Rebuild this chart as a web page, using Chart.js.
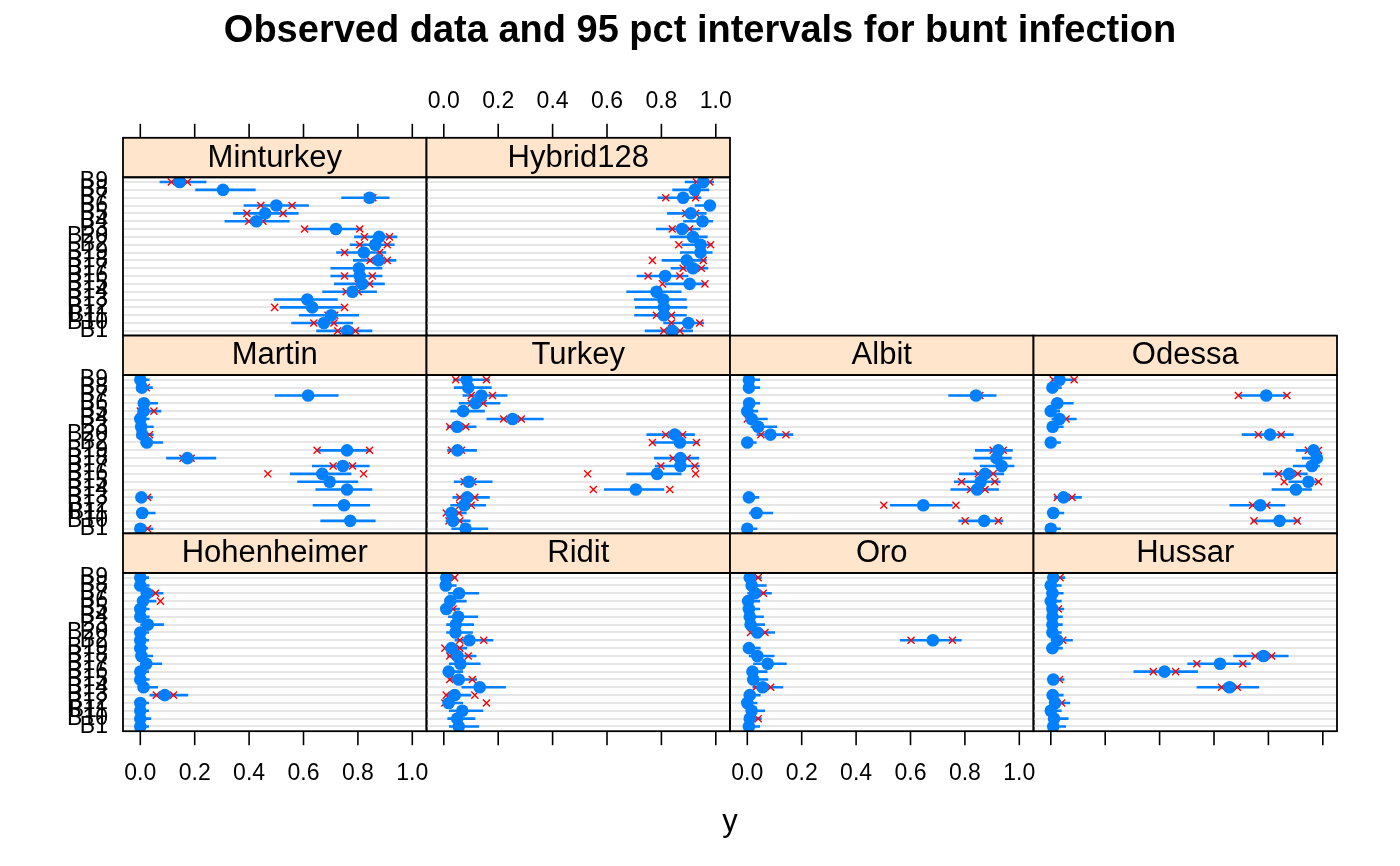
<!DOCTYPE html>
<html><head><meta charset="utf-8">
<script src="https://cdn.jsdelivr.net/npm/chart.js@4.4.1/dist/chart.umd.min.js"></script>
<style>
html,body{margin:0;padding:0;background:#fff;}
#wrap{position:relative;width:1400px;height:866px;overflow:hidden;background:#fff;}
#wrap canvas{position:absolute;left:0;top:0;}
</style></head><body><div id="wrap"></div>
<script>
// ---- categories / tick labels ----
const blocks = ['B1','B10','B11','B12','B13','B14','B15','B16','B17','B18','B19','B2','B20','B3','B4','B5','B6','B7','B8','B9'];
const xTickValues = [0, 0.2, 0.4, 0.6, 0.8, 1.0];
const titleText = 'Observed data and 95 pct intervals for bunt infection';
const xLabelText = 'y';

// ---- data (rows in order of blocks) ----
const minturkeyObs = [0.761,0.675,0.702,0.632,0.614,0.780,0.816,0.807,0.804,0.876,0.822,0.864,0.878,0.719,0.427,0.459,0.500,0.843,0.304,0.145];
const minturkeyLo  = [0.647,0.555,0.583,0.512,0.491,0.669,0.712,0.699,0.699,0.782,0.720,0.770,0.786,0.604,0.310,0.341,0.380,0.739,0.202,0.071];
const minturkeyHi  = [0.853,0.782,0.804,0.745,0.726,0.870,0.899,0.890,0.890,0.941,0.904,0.935,0.945,0.816,0.549,0.582,0.620,0.916,0.424,0.243];
const minturkeyXlo = [0.726,0.638,0.690,0.494,null,0.757,0.801,0.751,null,0.845,0.751,0.807,0.824,0.604,0.399,0.392,0.443,0.835,null,0.114];
const minturkeyXhi = [0.791,0.712,0.715,0.751,null,0.801,0.843,0.853,null,0.908,0.880,0.908,0.916,0.807,0.451,0.525,0.558,0.855,null,0.173];

const hybridObs = [0.840,0.899,0.809,0.809,0.807,0.782,0.904,0.814,0.916,0.893,0.944,0.944,0.916,0.876,0.951,0.908,0.978,0.880,0.923,0.954];
const hybridLo  = [0.739,0.807,0.700,0.703,0.699,0.671,0.812,0.709,0.834,0.801,0.868,0.874,0.831,0.780,0.880,0.821,0.923,0.786,0.840,0.886];
const hybridHi  = [0.916,0.957,0.893,0.895,0.893,0.874,0.966,0.899,0.972,0.966,0.988,0.988,0.970,0.944,0.990,0.966,0.998,0.947,0.976,0.993];
const hybridXlo = [0.809,0.837,0.782,null,null,null,0.804,0.751,0.880,0.767,null,0.864,null,0.840,null,0.890,null,0.816,null,0.929];
const hybridXhi = [0.868,0.941,0.837,null,null,null,0.960,0.868,0.947,0.954,null,0.981,null,0.904,null,0.926,null,0.926,null,0.978];

const martinObs = [0,0.772,0.007,0.749,0.004,0.760,0.696,0.669,0.745,0.173,0.760,0.024,0.007,0.003,0,0.012,0.013,0.617,0.006,0];
const martinLo  = [0,0.662,0,0.634,0,0.644,0.577,0.550,0.631,0.095,0.650,0,0,0,0,0,0,0.494,0,0];
const martinHi  = [0.048,0.865,0.056,0.845,0.046,0.853,0.801,0.776,0.843,0.279,0.849,0.084,0.049,0.049,0.034,0.077,0.065,0.729,0.046,0.034];
const martinXlo = [0,null,null,null,0,null,null,0.469,0.709,0.157,0.650,null,0,null,null,0,null,null,0,null];
const martinXhi = [0.027,null,null,null,0.027,null,null,0.821,0.780,0.187,0.843,null,0.034,null,null,0.050,null,null,0.022,null];

const turkeyObs = [0.080,0.034,0.028,0.075,0.086,0.706,0.092,0.784,0.870,0.870,0.050,0.868,0.849,0.049,0.253,0.071,0.117,0.138,0.090,0.084];
const turkeyLo  = [0.028,0.007,0.003,0.024,0.032,0.589,0.037,0.671,0.776,0.773,0.012,0.767,0.745,0.012,0.157,0.024,0.055,0.069,0.037,0.034];
const turkeyHi  = [0.163,0.098,0.084,0.155,0.169,0.810,0.179,0.874,0.941,0.939,0.122,0.939,0.923,0.120,0.367,0.151,0.208,0.234,0.176,0.169];
const turkeyXlo = [null,0.019,0.009,0.059,0.059,0.550,0.075,0.529,0.798,0.843,0.028,0.767,0.816,0.022,0.220,null,0.101,0.101,null,0.044];
const turkeyXhi = [null,0.059,0.056,0.101,0.114,0.831,0.107,0.926,0.923,0.895,0.065,0.929,0.878,0.081,0.285,null,0.145,0.179,null,0.157];

const albitObs = [0,0.871,0.034,0.647,0.006,0.845,0.858,0.874,0.935,0.916,0.923,0,0.085,0.040,0.016,0,0.007,0.841,0.006,0.006];
const albitLo  = [0,0.776,0.007,0.525,0,0.747,0.760,0.778,0.855,0.831,0.837,0,0.034,0.012,0,0,0,0.739,0,0];
const albitHi  = [0.037,0.941,0.095,0.755,0.044,0.925,0.931,0.944,0.982,0.972,0.976,0.034,0.169,0.110,0.075,0.040,0.047,0.916,0.047,0.047];
const albitXlo = [null,0.801,null,0.502,null,0.821,0.788,0.849,null,null,0.904,null,0.050,null,0,null,null,0.835,null,null];
const albitXhi = [null,0.923,null,0.767,null,0.874,0.910,0.904,null,null,0.941,null,0.142,null,null,null,null,0.855,null,null];

const odessaObs = [0,0.841,0.009,0.770,0.047,0.901,0.947,0.876,0.960,0.978,0.966,0,0.806,0.007,0.032,0,0.024,0.792,0.006,0.032];
const odessaLo  = [0,0.739,0,0.657,0.012,0.812,0.874,0.780,0.890,0.923,0.901,0,0.702,0,0.003,0,0,0.690,0,0.003];
const odessaHi  = [0.037,0.916,0.049,0.862,0.114,0.960,0.990,0.944,0.989,0.991,0.990,0.037,0.893,0.047,0.095,0.034,0.084,0.874,0.040,0.094];
const odessaXlo = [null,0.747,null,0.742,0.024,null,0.858,0.837,null,null,0.947,null,0.763,null,null,null,null,0.690,null,0.009];
const odessaXhi = [null,0.906,null,0.794,0.078,null,0.984,0.908,null,null,0.984,null,0.847,null,0.056,null,null,0.868,null,0.086];

const hohenObs = [0,0,0,0,0.090,0.012,0,0,0.022,0.004,0,0,0,0.028,0,0,0.010,0.024,0,0];
const hohenLo  = [0,0,0,0,0.034,0,0,0,0,0,0,0,0,0,0,0,0,0.004,0,0];
const hohenHi  = [0.032,0.040,0.032,0.032,0.176,0.065,0.034,0.032,0.080,0.047,0.028,0.032,0.032,0.087,0.034,0.034,0.059,0.085,0.034,0.032];
const hohenXlo = [null,null,null,null,0.059,null,null,null,null,null,null,null,null,null,null,null,null,null,null,null];
const hohenXhi = [null,null,null,null,0.122,null,null,null,null,null,null,null,null,null,null,null,0.074,0.056,null,null];

const riditObs = [0.055,0.049,0.068,0.018,0.040,0.132,0.055,0.018,0.061,0.050,0.028,0.094,0.043,0.044,0.053,0.009,0.024,0.056,0.007,0.009];
const riditLo  = [0.019,0.013,0.019,0,0.009,0.065,0.019,0,0.019,0.013,0.004,0.040,0.009,0.009,0.016,0,0.004,0.016,0,0];
const riditHi  = [0.130,0.116,0.145,0.071,0.101,0.228,0.122,0.071,0.135,0.120,0.086,0.182,0.107,0.111,0.126,0.059,0.084,0.130,0.047,0.047];
const riditXlo = [null,null,null,0.004,0.009,null,0.022,null,null,0.022,0.004,0.059,null,null,null,null,null,null,null,null];
const riditXhi = [null,null,null,0.157,0.114,null,0.105,null,null,0.090,0.059,0.147,null,null,null,0.034,null,null,null,0.040];

const oroObs = [0.006,0.009,0.016,0,0.009,0.056,0.022,0.019,0.075,0.037,0.006,0.682,0.037,0.012,0.009,0.006,0.003,0.028,0.016,0.009];
const oroLo  = [0,0,0,0,0,0.019,0,0,0.022,0.006,0,0.561,0.012,0,0,0,0,0,0,0];
const oroHi  = [0.047,0.053,0.065,0.037,0.049,0.132,0.077,0.074,0.145,0.100,0.049,0.788,0.102,0.065,0.061,0.047,0.047,0.090,0.071,0.053];
const oroXlo = [null,null,null,null,null,0.032,null,null,null,null,null,0.602,0.012,null,null,null,null,null,null,null];
const oroXhi = [null,0.040,null,null,null,0.086,null,null,null,null,null,0.754,0.065,null,null,null,null,0.059,null,0.040];

const hussarObs = [0.009,0.012,0,0.016,0.007,0.657,0.009,0.418,0.622,0.782,0.006,0.024,0.006,0.006,0.006,0.006,0,0.006,0,0.009];
const hussarLo  = [0,0,0,0,0,0.536,0,0.304,0.502,0.671,0,0,0,0,0,0,0,0,0,0];
const hussarHi  = [0.056,0.065,0.040,0.071,0.047,0.766,0.050,0.541,0.735,0.874,0.044,0.081,0.040,0.044,0.044,0.049,0.040,0.047,0.040,0.053];
const hussarXlo = [null,null,null,null,null,0.628,null,0.377,0.537,0.751,null,null,null,null,null,null,null,null,null,null];
const hussarXhi = [null,null,null,0.040,null,0.686,0.032,0.459,0.706,0.812,null,0.044,null,null,null,0.028,null,null,null,0.034];

// ---- layout ----
const FONT = "'Liberation Sans', Arial, Helvetica, sans-serif";
const COL_LEFT = [123, 426.5, 730, 1033.5];
const PANEL_W = 303.5;
const STRIP_TOP = [137.8, 335.6, 533.4];
const STRIP_H = 39.5;
const PLOT_H = 158.3;
const X_MIN = -0.0636, X_MAX = 1.0522;

const panels = [
  {name:'Minturkey',  row:0,col:0,obs:minturkeyObs,lo:minturkeyLo,hi:minturkeyHi,xlo:minturkeyXlo,xhi:minturkeyXhi, top:true, topLab:false, bottom:false, bottomLab:false, left:true, main:true},
  {name:'Hybrid128',  row:0,col:1,obs:hybridObs,lo:hybridLo,hi:hybridHi,xlo:hybridXlo,xhi:hybridXhi, top:true, topLab:true},
  {name:'Martin',     row:1,col:0,obs:martinObs,lo:martinLo,hi:martinHi,xlo:martinXlo,xhi:martinXhi, left:true},
  {name:'Turkey',     row:1,col:1,obs:turkeyObs,lo:turkeyLo,hi:turkeyHi,xlo:turkeyXlo,xhi:turkeyXhi},
  {name:'Albit',      row:1,col:2,obs:albitObs,lo:albitLo,hi:albitHi,xlo:albitXlo,xhi:albitXhi},
  {name:'Odessa',     row:1,col:3,obs:odessaObs,lo:odessaLo,hi:odessaHi,xlo:odessaXlo,xhi:odessaXhi},
  {name:'Hohenheimer',row:2,col:0,obs:hohenObs,lo:hohenLo,hi:hohenHi,xlo:hohenXlo,xhi:hohenXhi, left:true, bottom:true, bottomLab:true},
  {name:'Ridit',      row:2,col:1,obs:riditObs,lo:riditLo,hi:riditHi,xlo:riditXlo,xhi:riditXhi, bottom:true},
  {name:'Oro',        row:2,col:2,obs:oroObs,lo:oroLo,hi:oroHi,xlo:oroXlo,xhi:oroXhi, bottom:true, bottomLab:true},
  {name:'Hussar',     row:2,col:3,obs:hussarObs,lo:hussarLo,hi:hussarHi,xlo:hussarXlo,xhi:hussarXhi, bottom:true}
];

const panelDecor = {
  id: 'panelDecor',
  afterDraw(chart, args, opts) {
    const p = opts.panel;
    const ctx = chart.ctx;
    const a = chart.chartArea;
    const xs = chart.scales.x, ys = chart.scales.y;
    const st = a.top - STRIP_H;
    ctx.save();
    // strip
    ctx.fillStyle = '#ffe5cc';
    ctx.fillRect(a.left, st, a.right - a.left, STRIP_H);
    ctx.strokeStyle = '#000';
    ctx.lineWidth = 1.8;
    ctx.strokeRect(a.left, st, a.right - a.left, STRIP_H);
    ctx.strokeRect(a.left, a.top, a.right - a.left, a.bottom - a.top);
    ctx.fillStyle = '#000';
    ctx.font = '31px ' + FONT;
    ctx.textAlign = 'center';
    ctx.textBaseline = 'middle';
    ctx.fillText(p.name, (a.left + a.right) / 2, st + STRIP_H / 2 + 0.5);
    // x axis ticks
    ctx.font = '23px ' + FONT;
    ctx.textBaseline = 'alphabetic';
    ctx.lineWidth = 1.6;
    xs.ticks.forEach(t => {
      const px = xs.getPixelForValue(t.value);
      if (p.top) {
        ctx.beginPath(); ctx.moveTo(px, st); ctx.lineTo(px, st - 14); ctx.stroke();
        if (p.topLab) ctx.fillText(t.label, px, st - 30);
      }
      if (p.bottom) {
        ctx.beginPath(); ctx.moveTo(px, a.bottom); ctx.lineTo(px, a.bottom + 14); ctx.stroke();
        if (p.bottomLab) ctx.fillText(t.label, px, a.bottom + 49);
      }
    });
    // y labels
    if (p.left) {
      ctx.textAlign = 'right';
      ctx.textBaseline = 'middle';
      ys.ticks.forEach(t => {
        ctx.fillText(t.label, a.left - 15, ys.getPixelForValue(t.value));
      });
    }
    if (p.main) {
      ctx.textAlign = 'center';
      ctx.textBaseline = 'middle';
      ctx.font = 'bold 38px ' + FONT;
      ctx.fillText(titleText, 700, 32);
      ctx.font = '31px ' + FONT;
      ctx.textBaseline = 'alphabetic';
      ctx.fillText(xLabelText, 730, 831);
    }
    ctx.restore();
  }
};

const wrap = document.getElementById('wrap');
panels.forEach(p => {
  const cv = document.createElement('canvas');
  cv.width = 1400; cv.height = 866;
  cv.style.width = '1400px'; cv.style.height = '866px';
  wrap.appendChild(cv);
  const left = COL_LEFT[p.col];
  const top = STRIP_TOP[p.row] + STRIP_H;
  const dots = [], crosses = [], segs = [];
  blocks.forEach((b, i) => {
    const yv = i + 1;
    dots.push({x: p.obs[i], y: yv});
    if (p.xlo[i] !== null) crosses.push({x: p.xlo[i], y: yv});
    if (p.xhi[i] !== null) crosses.push({x: p.xhi[i], y: yv});
    segs.push({x: p.lo[i], y: yv}, {x: p.hi[i], y: yv}, {x: null, y: null});
  });
  new Chart(cv, {
    type: 'scatter',
    data: { datasets: [
      { label: 'observed', data: dots, pointRadius: 6.3, pointBackgroundColor: '#0080ff', backgroundColor: '#0080ff', pointBorderWidth: 0, borderWidth: 0, clip: 0 },
      { label: 'interval ends', data: crosses, pointStyle: 'crossRot', pointRadius: 5, pointBorderColor: '#ff0000', borderColor: '#ff0000', pointBorderWidth: 1.4, clip: 0 },
      { label: 'interval', data: segs, showLine: true, spanGaps: false, borderColor: '#0080ff', borderWidth: 2.6, pointRadius: 0, clip: 0, borderCapStyle: 'butt' }
    ]},
    options: {
      responsive: false, animation: false, devicePixelRatio: 1, events: [],
      layout: { padding: { left: left, top: top, right: 1400 - (left + PANEL_W), bottom: 866 - (top + PLOT_H) } },
      plugins: { legend: { display: false }, tooltip: { enabled: false }, title: { display: false }, panelDecor: { panel: p } },
      scales: {
        x: { type: 'linear', min: X_MIN, max: X_MAX,
             grid: { display: false, drawTicks: false }, border: { display: false },
             ticks: { display: false, callback: v => Number(v).toFixed(1) },
             afterBuildTicks: s => { s.ticks = xTickValues.map(v => ({ value: v })); } },
        y: { type: 'linear', min: 0.4, max: blocks.length + 0.6,
             grid: { display: true, drawTicks: false, color: '#e6e6e6', lineWidth: 2 }, border: { display: false },
             ticks: { display: false, callback: v => blocks[Math.round(v) - 1] },
             afterBuildTicks: s => { s.ticks = blocks.map((b, i) => ({ value: i + 1 })); } }
      }
    },
    plugins: [panelDecor]
  });
});
</script>
</body></html>
